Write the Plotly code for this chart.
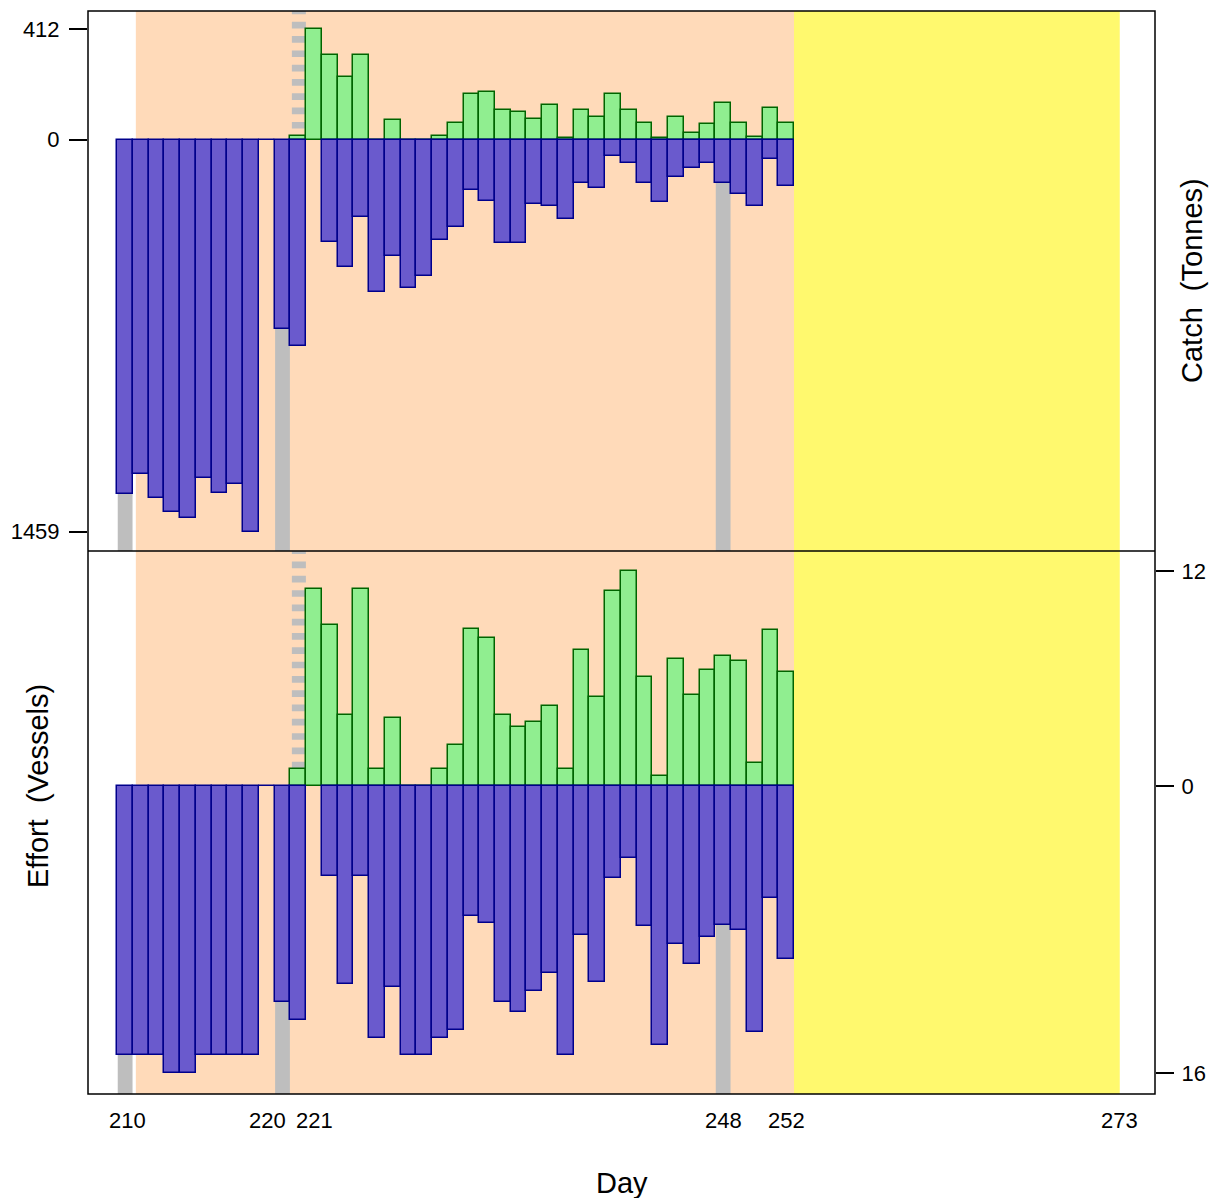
import plotly.graph_objects as go
from plotly.subplots import make_subplots

# ---------------- data ----------------
days = list(range(210, 253))

# Catch (tonnes): current-period (green, upward) and comparison (blue, downward)
catch_green = [None, None, None, None, None, None, None, None, None, None, None,
               14, 412, 314, 233, 314, 0, 73, 0, 0, 12, 64, 171, 179, 112, 104,
               77, 131, 5, 110, 83, 171, 110, 64, 5, 83, 25, 58, 138, 64, 11, 117, 64]
catch_blue = [1320, 1245, 1333, 1387, 1408, 1260, 1314, 1280, 1459, 0, 704,
              767, None, 380, 473, 288, 567, 433, 553, 506, 373, 325, 186, 227, 386, 386,
              239, 245, 294, 160, 179, 61, 87, 161, 233, 140, 106, 87, 161, 201, 245, 73, 173]

# Effort (vessels)
effort_green = [None, None, None, None, None, None, None, None, None, None, None,
                1.0, 11.0, 9.0, 4.0, 11.0, 1.0, 3.8, 0, 0, 1.0, 2.3, 8.8, 8.3, 4.0, 3.3,
                3.6, 4.5, 1.0, 7.6, 5.0, 10.9, 12.0, 6.1, 0.6, 7.1, 5.1, 6.5, 7.3, 7.0, 1.3, 8.7, 6.4]
effort_blue = [15, 15, 15, 16, 16, 15, 15, 15, 15, 0, 12,
               13, None, 5, 11, 5, 14, 11.2, 15, 15, 14, 13.6, 7.2, 7.6, 12, 12.6,
               11.4, 10.4, 15, 8.3, 10.9, 5.1, 4.0, 7.8, 14.4, 8.8, 9.9, 8.4, 7.7, 8.0, 13.7, 6.2, 9.6]

# axis ticks
catch_tick_vals = [412, 0, -1459]
catch_tick_text = ["412", "0", "1459"]
effort_tick_vals = [12, 0, -16]
effort_tick_text = ["12", "0", "16"]
x_tick_days = [210, 220, 221, 248, 252, 273]
x_tick_labels = ["210", "220", "221", "248", "252", "273"]
x_tick_shift_px = [2, -15, 16, 0, 0, 3]

# marked days / periods
gray_days = [210, 220, 248]
dotted_day = 221
peach_period = (210.68, 252.5)
yellow_period = (252.5, 273.2)

# ---------------- style ----------------
GREEN = "#90EE90"
DKGREEN = "#006400"
BLUE = "#6A5ACD"
NAVY = "#00008B"
PEACH = "#FFDAB9"
YELLOW = "#FFF96E"
GRAY = "#BEBEBE"
FONT = "Liberation Sans, Arial, Helvetica, sans-serif"

X_RANGE = [207.64, 275.44]
Y1_RANGE = [-1530.8, 479.0]
Y2_RANGE = [-17.15, 13.13]

def neg(vals):
    return [None if v is None else -v for v in vals]

fig = make_subplots(rows=2, cols=1, shared_xaxes=True, vertical_spacing=0,
                    row_heights=[540, 543])

bar_kw = dict(width=1.0, hoverinfo="skip", showlegend=False)
fig.add_trace(go.Bar(x=days, y=catch_green,
                     marker=dict(color=GREEN, line=dict(color=DKGREEN, width=1.5)), **bar_kw), row=1, col=1)
fig.add_trace(go.Bar(x=days, y=neg(catch_blue),
                     marker=dict(color=BLUE, line=dict(color=NAVY, width=1.5)), **bar_kw), row=1, col=1)
fig.add_trace(go.Bar(x=days, y=effort_green,
                     marker=dict(color=GREEN, line=dict(color=DKGREEN, width=1.5)), **bar_kw), row=2, col=1)
fig.add_trace(go.Bar(x=days, y=neg(effort_blue),
                     marker=dict(color=BLUE, line=dict(color=NAVY, width=1.5)), **bar_kw), row=2, col=1)

shapes = []
# background periods
shapes.append(dict(type="rect", xref="x", yref="paper", x0=peach_period[0], x1=peach_period[1],
                   y0=0, y1=1, fillcolor=PEACH, line=dict(width=0), layer="below"))
shapes.append(dict(type="rect", xref="x", yref="paper", x0=yellow_period[0], x1=yellow_period[1],
                   y0=0, y1=1, fillcolor=YELLOW, line=dict(width=0), layer="below"))
# gray marker bands in the lower (comparison) half of each panel
for d in gray_days:
    shapes.append(dict(type="rect", xref="x", yref="y", x0=d - 0.47, x1=d + 0.47,
                       y0=Y1_RANGE[0], y1=0, fillcolor=GRAY, line=dict(width=0), layer="below"))
    shapes.append(dict(type="rect", xref="x2", yref="y2", x0=d - 0.47, x1=d + 0.47,
                       y0=Y2_RANGE[0], y1=0, fillcolor=GRAY, line=dict(width=0), layer="below"))
# dotted marker in the upper half
shapes.append(dict(type="line", xref="x", yref="y", x0=dotted_day + 0.04, x1=dotted_day + 0.04,
                   y0=492, y1=0, line=dict(color=GRAY, width=14, dash="6.7px,7.6px"), layer="below"))
shapes.append(dict(type="line", xref="x2", yref="y2", x0=dotted_day + 0.04, x1=dotted_day + 0.04,
                   y0=13.34, y1=0, line=dict(color=GRAY, width=14, dash="6.7px,7.6px"), layer="below"))
# frame and panel divider
split = 543 / 1083
shapes.append(dict(type="rect", xref="paper", yref="paper", x0=0, x1=1, y0=0, y1=1,
                   line=dict(color="black", width=1.5), fillcolor="rgba(0,0,0,0)", layer="above"))
shapes.append(dict(type="line", xref="paper", yref="paper", x0=0, x1=1, y0=split, y1=split,
                   line=dict(color="black", width=1.5), layer="above"))

annotations = []
for d, lab, sh in zip(x_tick_days, x_tick_labels, x_tick_shift_px):
    annotations.append(dict(x=d, xref="x2", y=0, yref="paper", text=lab, showarrow=False,
                            xanchor="center", yanchor="top", xshift=sh, yshift=-12,
                            font=dict(family=FONT, size=22, color="black")))
annotations.append(dict(x=0.5, xref="paper", y=0, yref="paper", text="Day", showarrow=False,
                        xanchor="center", yanchor="middle", yshift=-89,
                        font=dict(family=FONT, size=29, color="black")))
annotations.append(dict(x=1, xref="paper", y=(1094 - 281) / 1083, yref="paper",
                        text="Catch\u00a0\u00a0(Tonnes)", showarrow=False, textangle=-90,
                        xanchor="center", yanchor="middle", xshift=37,
                        font=dict(family=FONT, size=29, color="black")))
annotations.append(dict(x=0, xref="paper", y=(1094 - 786) / 1083, yref="paper",
                        text="Effort\u00a0\u00a0(Vessels)", showarrow=False, textangle=-90,
                        xanchor="center", yanchor="middle", xshift=-50,
                        font=dict(family=FONT, size=29, color="black")))

fig.update_layout(
    width=1219, height=1198,
    margin=dict(l=88, r=64, t=11, b=104),
    paper_bgcolor="white", plot_bgcolor="white",
    barmode="overlay", bargap=0,
    showlegend=False,
    shapes=shapes, annotations=annotations,
    font=dict(family=FONT, size=22, color="black"),
)
fig.update_xaxes(range=X_RANGE, showgrid=False, zeroline=False, showticklabels=False,
                 ticks="", showline=False)
fig.update_yaxes(showgrid=False, zeroline=False, showline=False)
fig.update_yaxes(row=1, col=1, range=Y1_RANGE, side="left", tickmode="array",
                 tickvals=catch_tick_vals, ticktext=catch_tick_text, ticks="outside",
                 ticklen=18, tickwidth=1.5, tickcolor="black", ticklabelstandoff=5,
                 tickfont=dict(family=FONT, size=22, color="black"))
fig.update_yaxes(row=2, col=1, range=Y2_RANGE, side="right", tickmode="array",
                 tickvals=effort_tick_vals, ticktext=effort_tick_text, ticks="outside",
                 ticklen=18, tickwidth=1.5, tickcolor="black", ticklabelstandoff=3,
                 tickfont=dict(family=FONT, size=22, color="black"))

fig.write_html("out.html")
